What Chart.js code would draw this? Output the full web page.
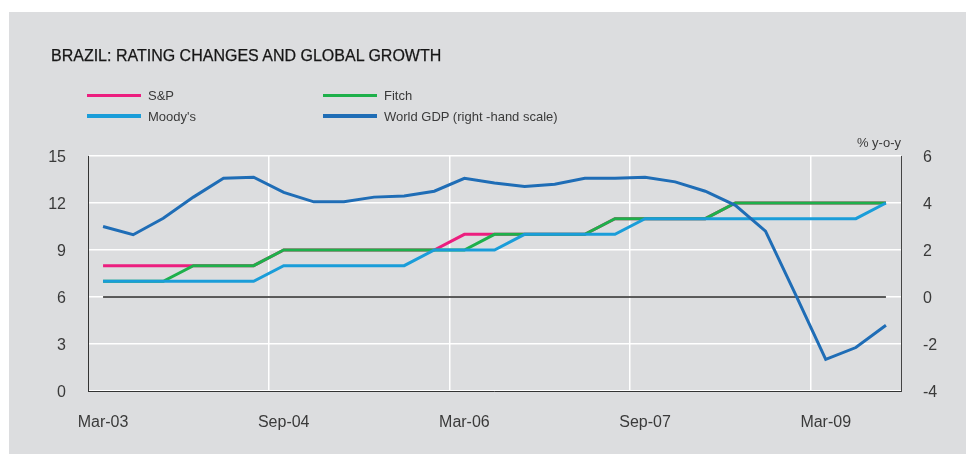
<!DOCTYPE html>
<html lang="en">
<head>
<meta charset="UTF-8">
<title>Brazil: rating changes and global growth</title>
<script src="https://cdn.jsdelivr.net/npm/chart.js"></script>
<style>
    html, body {
        margin: 0;
        padding: 0;
        background: #ffffff;
        font-family: "Liberation Sans", Arial, sans-serif;
    }
    #wrap {
        position: relative;
        width: 966px;
        height: 454px;
        overflow: hidden;
    }
    #panel {
        position: absolute;
        left: 9px;
        top: 12px;
        right: 0;
        bottom: 0;
        background: #dcdddf;
    }
    #chart {
        position: absolute;
        left: 0;
        top: 0;
    }
    #title {
        position: absolute;
        left: 51px;
        top: 48px;
        font-size: 16px;
        line-height: 16px;
        color: #161616;
        white-space: nowrap;
        -webkit-text-stroke: 0.25px #161616;
    }
    #legend {
        position: absolute;
        left: 87px;
        top: 89px;
        display: grid;
        grid-template-columns: 236px 236px;
        grid-auto-rows: 20.7px;
        font-size: 13px;
        line-height: 13px;
        color: #3a3a3a;
    }
    #legend .item {
        display: flex;
        align-items: center;
        white-space: nowrap;
        height: 13px;
    }
    #legend .swatch {
        display: inline-block;
        width: 54px;
        height: 3.5px;
        margin-right: 7px;
    }
    #unit {
        position: absolute;
        right: 65px;
        top: 136px;
        font-size: 13px;
        line-height: 13px;
        color: #3a3a3a;
    }
</style>
</head>
<body>
<div id="wrap">
    <div id="panel"></div>
    <canvas id="chart" width="966" height="454"></canvas>
    <div id="title">BRAZIL: RATING CHANGES AND GLOBAL GROWTH</div>
    <div id="legend"></div>
    <div id="unit">% y-o-y</div>
</div>
<script>
// quarterly, Mar-03 .. Sep-09
const quarters = ['Mar-03', 'Jun-03', 'Sep-03', 'Dec-03', 'Mar-04', 'Jun-04', 'Sep-04', 'Dec-04',
    'Mar-05', 'Jun-05', 'Sep-05', 'Dec-05', 'Mar-06', 'Jun-06', 'Sep-06', 'Dec-06',
    'Mar-07', 'Jun-07', 'Sep-07', 'Dec-07', 'Mar-08', 'Jun-08', 'Sep-08', 'Dec-08',
    'Mar-09', 'Jun-09', 'Sep-09'];

// ratings, left scale
const sp     = [8, 8, 8, 8, 8, 8, 9, 9, 9, 9, 9, 9, 10, 10, 10, 10, 10, 11, 11, 11, 11, 12, 12, 12, 12, 12, 12];
const fitch  = [7, 7, 7, 8, 8, 8, 9, 9, 9, 9, 9, 9, 9, 10, 10, 10, 10, 11, 11, 11, 11, 12, 12, 12, 12, 12, 12];
const moodys = [7, 7, 7, 7, 7, 7, 8, 8, 8, 8, 8, 9, 9, 9, 10, 10, 10, 10, 11, 11, 11, 11, 11, 11, 11, 11, 12];

// world GDP % y-o-y, right scale
const worldGdp = [3.0, 2.65, 3.35, 4.25, 5.05, 5.1, 4.45, 4.05, 4.05, 4.25, 4.3, 4.5, 5.05, 4.85,
    4.7, 4.8, 5.05, 5.05, 5.1, 4.9, 4.5, 3.9, 2.8, 0.1, -2.65, -2.15, -1.2];

const leftTicks = [0, 3, 6, 9, 12, 15];
const rightTicks = [-4, -2, 0, 2, 4, 6];
const labelEvery = 6;

const tickFont = { family: '"Liberation Sans", Arial, sans-serif', size: 16 };
const tickColor = '#3a3a3a';

const datasets = [
    { label: 'S&P', data: sp, borderColor: '#ec1e7f', yAxisID: 'y', order: 3 },
    { label: 'Fitch', data: fitch, borderColor: '#1eb04b', yAxisID: 'y', order: 2 },
    { label: "Moody's", data: moodys, borderColor: '#1a9dd9', yAxisID: 'y', order: 1 },
    { label: 'World GDP (right -hand scale)', data: worldGdp, borderColor: '#1f6db6', yAxisID: 'y1', order: 0 }
];
datasets.forEach(d => {
    d.borderWidth = 3;
    d.pointRadius = 0;
    d.tension = 0;
    d.fill = false;
});

// zero line for GDP, from first to last quarter
const zeroLine = {
    label: 'zero',
    data: [{ x: quarters[0], y: 0 }, { x: quarters[quarters.length - 1], y: 0 }],
    borderColor: '#262626',
    borderWidth: 1.3,
    pointRadius: 0,
    yAxisID: 'y1',
    order: 4
};

// html legend
const legendEl = document.getElementById('legend');
datasets.forEach(d => {
    const item = document.createElement('div');
    item.className = 'item';
    item.innerHTML = '<span class="swatch" style="background:' + d.borderColor + '"></span>' + d.label;
    legendEl.appendChild(item);
});

new Chart(document.getElementById('chart'), {
    type: 'line',
    data: {
        labels: quarters,
        datasets: datasets.concat([zeroLine])
    },
    options: {
        responsive: false,
        animation: false,
        devicePixelRatio: 1,
        layout: { padding: { top: 156, left: 0, right: 0, bottom: 0 } },
        plugins: {
            legend: { display: false },
            tooltip: { enabled: false }
        },
        scales: {
            x: {
                type: 'category',
                offset: true,
                grid: {
                    offset: true,
                    drawTicks: false,
                    lineWidth: 1.5,
                    color: ctx => (ctx.index > 0 && ctx.index % labelEvery === 0) ? '#ffffff' : 'rgba(0,0,0,0)'
                },
                border: { color: '#333333', width: 1 },
                ticks: {
                    autoSkip: false,
                    maxRotation: 0,
                    padding: 22,
                    color: tickColor,
                    font: tickFont,
                    callback: (v, i) => i % labelEvery === 0 ? quarters[i] : ''
                },
                afterFit: s => { s.height = 63; }
            },
            y: {
                position: 'left',
                min: leftTicks[0],
                max: leftTicks[leftTicks.length - 1],
                afterBuildTicks: s => { s.ticks = leftTicks.map(v => ({ value: v })); },
                grid: { color: '#ffffff', lineWidth: 1.5, drawTicks: false },
                border: { color: '#333333', width: 1 },
                ticks: { padding: 22, labelOffset: 2, color: tickColor, font: tickFont },
                afterFit: s => { s.width = 88; }
            },
            y1: {
                position: 'right',
                min: rightTicks[0],
                max: rightTicks[rightTicks.length - 1],
                afterBuildTicks: s => { s.ticks = rightTicks.map(v => ({ value: v })); },
                grid: { drawOnChartArea: false, drawTicks: false },
                border: { color: '#444444', width: 1 },
                ticks: { padding: 22, labelOffset: 2, color: tickColor, font: tickFont },
                afterFit: s => { s.width = 65; }
            }
        }
    }
});
</script>
</body>
</html>
